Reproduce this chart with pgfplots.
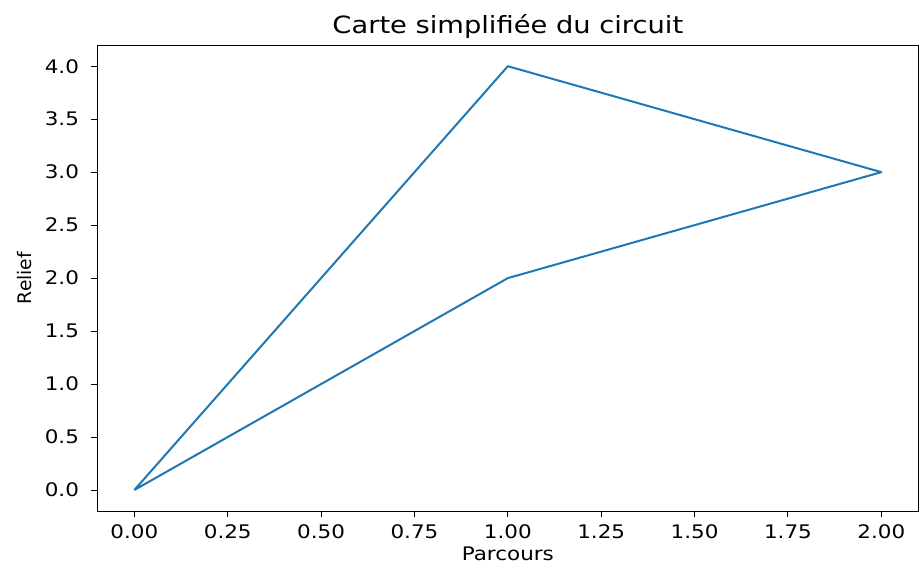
\documentclass[border=0pt]{standalone}
\usepackage{pgfplots}
\pgfplotsset{compat=1.18}
\usepackage{fontspec}
\setmainfont{DejaVu Sans}[FakeStretch=1.15]
\newfontfamily\plainfont{DejaVu Sans}
\usetikzlibrary{calc}
\definecolor{mplblue}{HTML}{1F77B4}
\begin{document}
\begin{tikzpicture}
\begin{axis}[
  scale only axis,
  width=616pt, height=349.5pt,
  xmin=-0.1, xmax=2.1, ymin=-0.2, ymax=4.2,
  xtick={0,0.25,...,2.0},
  ytick={0,0.5,...,4.0},
  /pgf/number format/assume math mode=true,
  tick label style={font=\fontsize{14}{16}\selectfont},
  xticklabel style={yshift=-2pt, /pgf/number format/fixed, /pgf/number format/fixed zerofill, /pgf/number format/precision=2},
  yticklabel style={xshift=-5.5pt, /pgf/number format/fixed, /pgf/number format/fixed zerofill, /pgf/number format/precision=1},
  tick align=outside,
  major tick length=4.5pt,
  tick style={black, line width=0.7pt},
  xtick pos=bottom, ytick pos=left,
  axis line style={line width=0.7pt},
  title={\fontsize{17.8}{20}\selectfont Carte simplifiée du circuit},
  every axis title/.style={at={(axis description cs:0.5,1)}, anchor=base, yshift=8.3pt},
  xlabel={\fontsize{14}{16}\selectfont Parcours},
  every axis x label/.style={at={(axis description cs:0.5,0)}, anchor=base, yshift=-37pt},
  ylabel={\plainfont\fontsize{14}{16}\selectfont Relief},
  every axis y label/.style={at={(axis description cs:0,0.5)}, rotate=90, anchor=center, yshift=54.5pt},
]
\addplot[mplblue, line width=1.5pt, line join=round] coordinates {
  (0,0) (1,4) (2,3) (1,2) (0,0)
};
\end{axis}
\pgfresetboundingbox
\path[use as bounding box] ($(current axis.south west)+(-72.75pt,-39.75pt)$) rectangle ($(current axis.north east)+(1pt,33.75pt)$);
\end{tikzpicture}
\end{document}
